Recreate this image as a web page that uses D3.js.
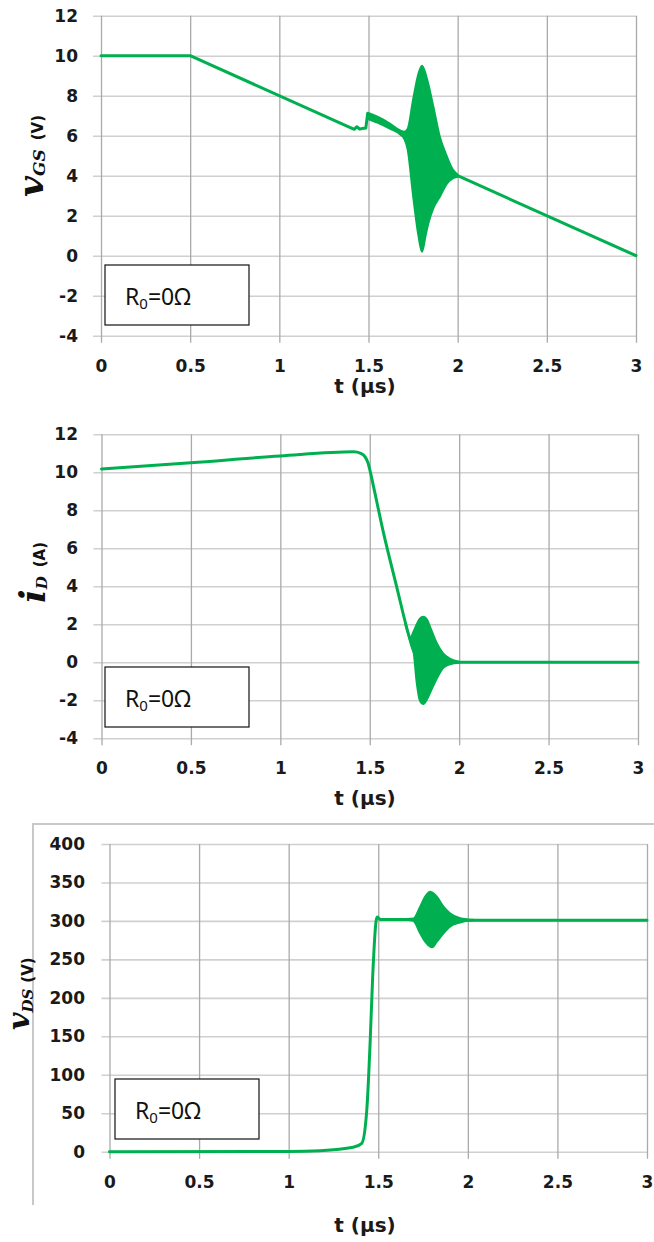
<!DOCTYPE html>
<html>
<head>
<meta charset="utf-8">
<script src="https://cdn.jsdelivr.net/npm/d3@7"></script>
<style>
  body { margin: 0; background: #fff; }
  svg { display: block; }
  .tick text { font-family: "DejaVu Sans", Verdana, sans-serif; font-weight: bold; font-size: 17px; fill: #1a1a1a; }
</style>
</head>
<body>
<svg id="chart" width="654" height="1242"></svg>
<script>
// shared time ticks (µs)
const tTicks = [0, 0.5, 1, 1.5, 2, 2.5, 3];

// vGS (V)
const vgsTicks = [-4, -2, 0, 2, 4, 6, 8, 10, 12];
const vgsT = [0, 0.5, 1.42, 1.435, 1.45, 1.465, 1.485, 1.495, 1.58, 1.68, 1.72, 1.76, 1.8, 1.85, 1.9, 1.95, 2.0, 3.0];
const vgsV = [10, 10, 6.32, 6.45, 6.33, 6.36, 6.38, 7.1, 6.65, 6.15, 5.8, 5.3, 4.9, 4.7, 4.45, 4.2, 4.0, 0];
// ringing envelope
const vgsEnvT  = [1.495, 1.55, 1.62, 1.68, 1.70, 1.72, 1.75, 1.78, 1.80, 1.82, 1.835, 1.865, 1.90, 1.94, 1.97, 2.0];
const vgsEnvHi = [7.15, 6.95, 6.6, 6.25, 6.2, 6.35, 7.8, 9.1, 9.5, 9.1, 8.6, 7.4, 5.95, 4.95, 4.35, 4.05];
const vgsEnvLo = [6.85, 6.65, 6.35, 6.05, 5.85, 5.3, 3.0, 1.0, 0.2, 1.0, 1.6, 2.4, 2.95, 3.6, 3.85, 3.95];

// iD (A)
const idTicks = [-4, -2, 0, 2, 4, 6, 8, 10, 12];
const idT = [0, 0.5, 1.0, 1.41, 1.45, 1.475, 1.49, 1.5, 1.52, 1.576, 1.65, 1.716, 1.75, 1.8, 1.9, 2.0, 3.0];
const idV = [10.17, 10.5, 10.86, 11.08, 11.0, 10.8, 10.5, 10.15, 9.3, 6.85, 4.0, 1.5, 0.5, 0.1, 0.05, 0, 0];
const idEnvT  = [1.70, 1.728, 1.744, 1.763, 1.78, 1.80, 1.82, 1.84, 1.875, 1.91, 1.95, 2.0];
const idEnvHi = [2.1, 1.3, 1.6, 2.0, 2.3, 2.4, 2.25, 1.8, 1.0, 0.47, 0.18, 0.03];
const idEnvLo = [1.95, 1.1, 0.65, -1.1, -2.0, -2.2, -1.95, -1.55, -0.85, -0.3, -0.1, -0.03];

// vDS (V)
const vdsTicks = [0, 50, 100, 150, 200, 250, 300, 350, 400];
const vdsT = [0, 1.0, 1.175, 1.36, 1.408, 1.436, 1.4545, 1.469, 1.488, 1.495, 1.51, 1.7, 2.0, 3.0];
const vdsV = [0, 0.3, 1.3, 5.7, 10.9, 54, 141, 228, 300, 305, 302, 302, 301, 301];
const vdsEnvT  = [1.66, 1.696, 1.734, 1.762, 1.79, 1.80, 1.827, 1.864, 1.90, 1.957, 2.0, 2.03];
const vdsEnvHi = [302.5, 303, 318.6, 331.6, 338, 337, 331.6, 318.6, 310, 303.5, 302, 301.5];
const vdsEnvLo = [301.5, 300, 284, 273, 266.5, 265.7, 273, 284, 292.6, 298, 300.5, 301];

const svg = d3.select('#chart');
const green = '#00b050';

const zip = (ts, vs) => ts.map((t, i) => ({ t, v: vs[i] }));
const zipEnv = (ts, hi, lo) => ts.map((t, i) => ({ t, hi: hi[i], lo: lo[i] }));

function drawPanel(p) {
  const g = svg.append('g');
  const x = d3.scaleLinear().domain([0, 3]).range([p.left, p.right]);
  const y = d3.scaleLinear().domain([p.yTicks[0], p.yTicks[p.yTicks.length - 1]]).range([p.bottom, p.top]);

  //horizontal grid + y labels
  const yAxis = g.append('g')
    .attr('transform', `translate(${p.left},0)`)
    .call(d3.axisLeft(y).tickValues(p.yTicks).tickFormat(d => String(d))
      .tickSize(-(p.right - p.left)).tickPadding(p.yPad));
  yAxis.select('.domain').remove();
  yAxis.selectAll('line').attr('x1', -8).attr('stroke', '#d0d0d0').attr('stroke-width', 1.6);

  //vertical grid + x labels
  const xAxis = g.append('g')
    .attr('transform', `translate(0,${p.bottom})`)
    .call(d3.axisBottom(x).tickValues(tTicks).tickFormat(d => String(d))
      .tickSize(-(p.bottom - p.top)).tickPadding(25));
  xAxis.select('.domain').remove();
  xAxis.selectAll('line').attr('y1', 7).attr('stroke', '#aaaaaa').attr('stroke-width', 1.3);
  xAxis.selectAll('text').attr('y', 24);

  //ringing envelope
  g.append('path')
    .datum(zipEnv(p.envT, p.envHi, p.envLo))
    .attr('d', d3.area().x(d => x(d.t)).y0(d => y(d.lo)).y1(d => y(d.hi)).curve(d3.curveMonotoneX))
    .attr('fill', green).attr('stroke', green).attr('stroke-width', 2).attr('stroke-linejoin', 'round');

  //main trace
  g.append('path')
    .datum(zip(p.t, p.v))
    .attr('d', d3.line().x(d => x(d.t)).y(d => y(d.v)).curve(p.curve))
    .attr('fill', 'none').attr('stroke', green).attr('stroke-width', 3)
    .attr('stroke-linejoin', 'round').attr('stroke-linecap', 'round');

  //t axis title
  g.append('text')
    .attr('x', 365).attr('y', p.xTitleY)
    .attr('text-anchor', 'middle')
    .style('font-family', '"DejaVu Sans", Verdana, sans-serif')
    .style('font-weight', 'bold').style('font-size', '20px').style('fill', '#1a1a1a')
    .text('t (µs)');

  //R0 box
  g.append('rect')
    .attr('x', p.box[0]).attr('y', p.box[1]).attr('width', 144).attr('height', 60)
    .attr('fill', '#fff').attr('stroke', '#111').attr('stroke-width', 1.2);
  const bt = g.append('text')
    .attr('x', p.box[0] + 20).attr('y', p.box[1] + 40)
    .style('font-family', '"Noto Sans", "Open Sans", sans-serif')
    .style('font-size', '23px').style('fill', '#111');
  bt.append('tspan').text('R');
  bt.append('tspan').attr('dy', 4).style('font-size', '15px').text('0');
  bt.append('tspan').attr('dy', -4).text('=0Ω');

  //y axis title, rotated
  const yl = g.append('text')
    .attr('transform', `translate(${p.yl.x},${p.yl.y}) rotate(-90)`)
    .style('fill', '#111');
  yl.append('tspan')
    .style('font-family', '"DejaVu Serif", serif').style('font-style', 'italic').style('font-weight', 'bold')
    .style('font-size', p.yl.size + 'px')
    .text(p.yl.main);
  yl.append('tspan')
    .attr('dy', p.yl.subDy)
    .style('font-family', '"DejaVu Serif", serif').style('font-style', 'italic').style('font-weight', 'bold')
    .style('font-size', p.yl.subSize + 'px')
    .text(p.yl.sub);
  yl.append('tspan')
    .attr('dx', p.yl.gap).attr('dy', p.yl.unitDy)
    .style('font-family', '"DejaVu Sans", Verdana, sans-serif').style('font-weight', 'bold')
    .style('font-size', '15px')
    .text(p.yl.unit);
}

drawPanel({
  left: 101, right: 636, top: 15.7, bottom: 335.7, yPad: 23, curve: d3.curveLinear,
  yTicks: vgsTicks, t: vgsT, v: vgsV, envT: vgsEnvT, envHi: vgsEnvHi, envLo: vgsEnvLo,
  xTitleY: 393, box: [105, 265],
  yl: { x: 43, y: 197, size: 36, main: 'v', sub: 'GS', subSize: 17, subDy: 2, gap: 9, unitDy: -2, unit: '(V)' }
});

drawPanel({
  left: 101.5, right: 638, top: 434.3, bottom: 738.3, yPad: 23.5, curve: d3.curveMonotoneX,
  yTicks: idTicks, t: idT, v: idV, envT: idEnvT, envHi: idEnvHi, envLo: idEnvLo,
  xTitleY: 805, box: [105, 667],
  yl: { x: 45, y: 603, size: 36, main: 'i', sub: 'D', subSize: 15, subDy: 2, gap: 9, unitDy: -2, unit: '(A)' }
});

//outer frame of the third plot
svg.append('path')
  .attr('d', 'M33,1205V824H654')
  .attr('fill', 'none').attr('stroke', '#c8c8c8').attr('stroke-width', 2);

drawPanel({
  left: 109.5, right: 647, top: 844, bottom: 1151.7, yPad: 24.5, curve: d3.curveMonotoneX,
  yTicks: vdsTicks, t: vdsT, v: vdsV, envT: vdsEnvT, envHi: vdsEnvHi, envLo: vdsEnvLo,
  xTitleY: 1232, box: [115, 1079],
  yl: { x: 29, y: 1030, size: 30, main: 'v', sub: 'DS', subSize: 15, subDy: 4, gap: 6, unitDy: 0, unit: '(V)' }
});
</script>
</body>
</html>
